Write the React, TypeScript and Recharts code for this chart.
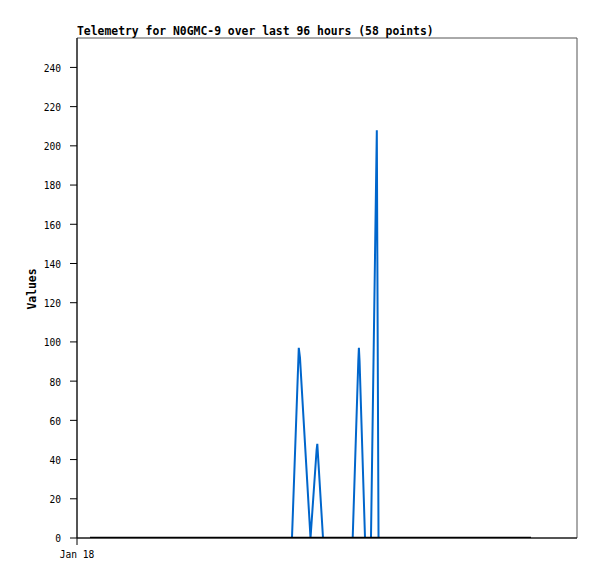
import React from "react";
import { LineChart, Line, XAxis, YAxis, ReferenceArea } from "recharts";

// hours since Jan 18 00:00
const blueTimes = [2.83, 46.78, 48.26, 48.52, 50.81, 52.14, 52.29, 53.53, 59.99, 61.21, 61.34, 61.49, 62.67, 63.97, 65.24, 65.61, 98.79];
const blueValues = [0, 0, 97, 92, 0, 45, 48, 0, 0, 90, 97, 90, 0, 0, 208, 0, 0];
const blackTimes = [2.83, 98.79];
const blackValues = [0, 0];
const yTicks = [0, 20, 40, 60, 80, 100, 120, 140, 160, 180, 200, 220, 240];
const xTicks = [0];
const xTickLabels = ["Jan 18"];
const title = "Telemetry for N0GMC-9 over last 96 hours (58 points)";
const yLabel = "Values";

const blueData = blueTimes.map((t, i) => ({ t, v: blueValues[i] }));
const blackData = blackTimes.map((t, i) => ({ t, v: blackValues[i] }));

const X_MAX = 108.8;
const Y_MAX = 255;
const MONO = "'DejaVu Sans Mono', 'Liberation Mono', monospace";

export default function App() {
  return (
    <div style={{ position: "relative", width: 589, height: 571 }}>
      <LineChart
        width={589}
        height={571}
        margin={{ top: 30, right: 20, bottom: 21, left: 0 }}
      >
        <ReferenceArea
          x1={0}
          x2={X_MAX}
          y1={0}
          y2={Y_MAX}
          fill="none"
          stroke="#555"
          strokeWidth={1}
          fillOpacity={0}
        />
        <XAxis
          type="number"
          dataKey="t"
          domain={[0, X_MAX]}
          ticks={xTicks}
          allowDataOverflow
          tickFormatter={(v: number) => xTickLabels[xTicks.indexOf(v)] ?? ""}
          height={20}
          tickSize={7}
          tickMargin={6}
          axisLine={{ stroke: "#000", strokeWidth: 1 }}
          tickLine={{ stroke: "#000" }}
          tick={{ fill: "#000", fontSize: 9.6, fontFamily: MONO }}
        />
        <YAxis
          type="number"
          domain={[0, Y_MAX]}
          ticks={yTicks}
          allowDataOverflow
          width={69}
          tickSize={7}
          tickMargin={9}
          axisLine={{ stroke: "#000", strokeWidth: 1 }}
          tickLine={{ stroke: "#000" }}
          tick={{ fill: "#000", fontSize: 9.6, fontFamily: MONO, dy: 1 }}
        />
        <Line
          data={blueData}
          dataKey="v"
          type="linear"
          stroke="#0066cc"
          strokeWidth={2}
          dot={false}
          isAnimationActive={false}
        />
        <Line
          data={blackData}
          dataKey="v"
          type="linear"
          stroke="#000"
          strokeWidth={2.5}
          dot={false}
          isAnimationActive={false}
        />
      </LineChart>
      <svg
        width={589}
        height={571}
        style={{ position: "absolute", left: 0, top: 0, pointerEvents: "none" }}
      >
        <text
          x={69}
          y={27}
          fontFamily={MONO}
          fontWeight="bold"
          fontSize={11.4}
          fill="#000"
        >
          {title}
        </text>
        <text
          x={28}
          y={281}
          transform="rotate(-90 28 281)"
          textAnchor="middle"
          fontFamily={MONO}
          fontWeight="bold"
          fontSize={11.4}
          fill="#000"
        >
          {yLabel}
        </text>
      </svg>
    </div>
  );
}
